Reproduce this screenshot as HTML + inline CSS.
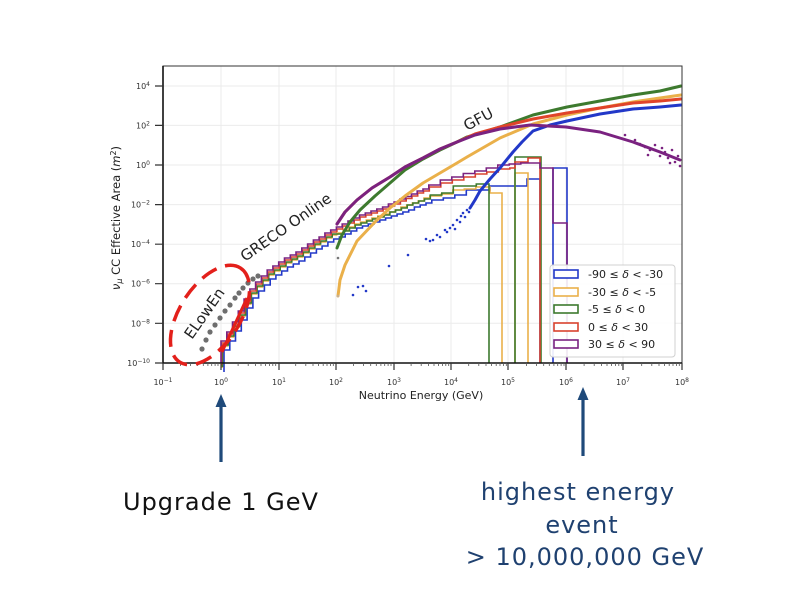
<!DOCTYPE html>
<html><head><meta charset="utf-8"><style>html,body{margin:0;padding:0;background:#fff}svg{display:block}</style></head>
<body>
<svg width="799" height="600" viewBox="0 0 799 600" xmlns="http://www.w3.org/2000/svg" xmlns:xlink="http://www.w3.org/1999/xlink" font-family="'DejaVu Sans','Liberation Sans',sans-serif">
<rect x="0" y="0" width="799" height="600" fill="#fff"/>
<defs>
<g id="mt" stroke="#555" stroke-width="0.8">
<path d="M17.4,363v3M27.5,363v3M34.7,363v3M40.3,363v3M44.9,363v3M48.7,363v3M52.1,363v3M55,363v3"/>
</g>
</defs>
<!-- grid -->
<g stroke="#ebebeb" stroke-width="1">
<path d="M221,66V363M279,66V363M336,66V363M394,66V363M451,66V363M508,66V363M566,66V363M623,66V363"/>
<path d="M163,86H682M163,125.4H682M163,165H682M163,204.6H682M163,244.2H682M163,283.7H682M163,323.3H682"/>
</g>
<!-- histograms: blue, orange, green, red, purple -->
<g fill="none" stroke-width="1.6" stroke-linejoin="miter">
<path id="lowp" d="M221,363V341H226.8V332H232.5V322H238.3V311H244.1V299H249.9V289H255.6V282H261.4V276H267.2V270H272.9V266H278.7V262H284.5V258H290.3V255H296V252H301.8V248H307.6V244H313.4V240H319.1V237H324.9V233H330.7V230H336.4" stroke="#2238c8" transform="translate(3,9)"/>
<path d="M339.4,239V237H345.2V234H351V231H356.7V228H362.5V226H368.3V224H374V222H379.8V220H385.6V218H391.4V216H397.1V214H402.9V212H408.7V210H414.4V207H420.2V205H426V203H431.8V200H443.3V198H454.8V195H466.3V190H490V186H527V179H540V363M553,363V168H567V363" stroke="#2238c8"/>
<path d="M221,363V341H226.8V332H232.5V322H238.3V311H244.1V299H249.9V289H255.6V282H261.4V276H267.2V270H272.9V266H278.7V262H284.5V258H290.3V255H296V252H301.8V248H307.6V244H313.4V240H319.1V237H324.9V233H330.7V230H336.4" stroke="#eab04a" transform="translate(1,5)"/>
<path d="M337.4,235V233H343.2V230H349V227H354.7V224H360.5V222H366.3V220H372V218H377.8V216H383.6V214H389.4V212H395.1V210H400.9V207H406.7V205H412.4V203H418.2V201H424V198H429.8V196H441.3V194H452.8V190H464.3V189H475.8V187H490V193H502V363M515,363V173H528V363" stroke="#eab04a"/>
<path d="M221,363V341H226.8V332H232.5V322H238.3V311H244.1V299H249.9V289H255.6V282H261.4V276H267.2V270H272.9V266H278.7V262H284.5V258H290.3V255H296V252H301.8V248H307.6V244H313.4V240H319.1V237H324.9V233H330.7V230H336.4" stroke="#3d7a2e" transform="translate(1.5,4)"/>
<path d="M337.9,234V234H343.7V231H349.5V228H355.2V225H361V223H366.8V221H372.5V219H378.3V217H384.1V215H389.9V212H395.6V210H401.4V208H407.2V205H412.9V203H418.7V201H424.5V199H430.3V195H441.8V193H453.3V186H476.3V184H489V363M515,363V157H541V363" stroke="#3d7a2e"/>
<path d="M221,363V341H226.8V332H232.5V322H238.3V311H244.1V299H249.9V289H255.6V282H261.4V276H267.2V270H272.9V266H278.7V262H284.5V258H290.3V255H296V252H301.8V248H307.6V244H313.4V240H319.1V237H324.9V233H330.7V230H336.4" stroke="#d9432e" transform="translate(0.5,2)"/>
<path d="M336.9,232V229H342.7V226H348.5V223H354.2V220H360V217H365.8V215H371.5V213H377.3V211H383.1V209H388.9V206H394.6V204H400.4V201H406.2V198.5H411.9V196H417.7V193H423.5V191H429.3V187H440.8V183H452.3V180H463.8V177H475.3V174H486.8V172H498.3V169H509.8V168H515V162H528V158H540V363" stroke="#d9432e"/>
<path d="M221,363V341H226.8V332H232.5V322H238.3V311H244.1V299H249.9V289H255.6V282H261.4V276H267.2V270H272.9V266H278.7V262H284.5V258H290.3V255H296V252H301.8V248H307.6V244H313.4V240H319.1V237H324.9V233H330.7V230H336.4" stroke="#7a2280"/>
<path d="M336.4,230V227H342.2V224H348V221H353.7V218H359.5V215H365.3V213H371V211H376.8V209H382.6V207H388.4V204H394.1V202H399.9V199H405.7V196.5H411.4V194H417.2V191H423V189H428.8V185H440.3V180H451.8V177H463.3V173.5H474.8V171H486.3V168H497.8V165H509.3V164H520.8V163H540V168H553V223H567V363" stroke="#7a2280"/>
</g>
<!-- GFU curves -->
<g fill="none" stroke-width="3" stroke-linejoin="round" stroke-linecap="round">
<polyline stroke="#2238c8" points="470,208 475,200 480,191 490,179 500,168 513,152 522,142 533,131 550,125 567,121 600,114 633,109 660,107 681,105"/>
<polyline stroke="#eab04a" points="338,296 340,280 345,265 357,241 375,222 390,208 405,196 423,183 440,173 457,163 467,157 500,138 533,124 567,115 600,108 633,102 660,98 681,95"/>
<polyline stroke="#3d7a2e" points="337,248 342,235 350,222 360,210 375,196 390,183 405,170 423,159 440,150 457,142 467,137 500,127 533,115 567,107 600,101 633,95 660,91 681,86"/>
<polyline stroke="#e0442a" points="337,224 345,212 357,200 372,188 390,177 405,167 423,158 440,149 457,142 475,134 500,127 533,119 567,113 600,108 633,103 660,101 681,99"/>
<polyline stroke="#7a2280" points="337,224 345,212 357,200 372,188 390,177 405,167 423,158 440,149 457,142 475,135 500,129 530,125 566,127 600,132 633,142 660,152 680,160"/>
</g>
<g fill="#2238c8">
<circle cx="353" cy="295" r="1.3"/><circle cx="358" cy="287" r="1.3"/><circle cx="363" cy="286" r="1.3"/><circle cx="366" cy="291" r="1.3"/><circle cx="389" cy="266" r="1.3"/><circle cx="408" cy="255" r="1.3"/><circle cx="426" cy="239" r="1.3"/><circle cx="430" cy="241" r="1.3"/><circle cx="433" cy="240" r="1.3"/><circle cx="437" cy="235" r="1.3"/><circle cx="440" cy="237" r="1.3"/><circle cx="445" cy="230" r="1.3"/><circle cx="447" cy="232" r="1.3"/><circle cx="450" cy="228" r="1.3"/><circle cx="453" cy="225" r="1.3"/><circle cx="455" cy="229" r="1.3"/><circle cx="457" cy="220" r="1.3"/><circle cx="460" cy="222" r="1.3"/><circle cx="461" cy="216" r="1.3"/><circle cx="463" cy="213" r="1.3"/><circle cx="465" cy="217" r="1.3"/><circle cx="467" cy="210" r="1.3"/><circle cx="469" cy="212" r="1.3"/>
</g>
<g fill="#7a2280">
<circle cx="625" cy="135" r="1.3"/><circle cx="635" cy="140" r="1.3"/><circle cx="640" cy="144" r="1.3"/><circle cx="645" cy="147" r="1.3"/><circle cx="648" cy="155" r="1.3"/><circle cx="650" cy="150" r="1.3"/><circle cx="655" cy="145" r="1.3"/><circle cx="660" cy="156" r="1.3"/><circle cx="662" cy="148" r="1.3"/><circle cx="665" cy="152" r="1.3"/><circle cx="668" cy="158" r="1.3"/><circle cx="670" cy="163" r="1.3"/><circle cx="672" cy="150" r="1.3"/><circle cx="675" cy="162" r="1.3"/><circle cx="678" cy="156" r="1.3"/><circle cx="680" cy="166" r="1.3"/>
</g>
<circle cx="338" cy="296" r="1.3" fill="#c8b090"/><circle cx="338" cy="258" r="1.3" fill="#777"/>
<!-- frame -->
<rect x="163" y="66" width="519" height="297" fill="none" stroke="#333" stroke-width="1"/>
<path d="M163,66V363H682" fill="none" stroke="#111" stroke-width="1.6"/>
<!-- ticks -->
<g stroke="#333" stroke-width="1.2">
<path d="M163,363v7M221,363v7M279,363v7M336,363v7M394,363v7M451,363v7M508,363v7M566,363v7M623,363v7M682,363v7"/>
<path d="M155,86h8M155,125.4h8M155,165h8M155,204.6h8M155,244.2h8M155,283.7h8M155,323.3h8M155,363h8"/>
</g>
<use xlink:href="#mt" x="163"/><use xlink:href="#mt" x="220.7"/><use xlink:href="#mt" x="278.3"/><use xlink:href="#mt" x="336"/><use xlink:href="#mt" x="393.7"/><use xlink:href="#mt" x="451.3"/><use xlink:href="#mt" x="509"/><use xlink:href="#mt" x="566.7"/><use xlink:href="#mt" x="624.3"/>
<!-- tick labels -->
<g font-size="8" fill="#333" text-anchor="middle">
<text x="163" y="385">10<tspan dy="-3" font-size="6">−1</tspan></text>
<text x="221" y="385">10<tspan dy="-3" font-size="6">0</tspan></text>
<text x="279" y="385">10<tspan dy="-3" font-size="6">1</tspan></text>
<text x="336" y="385">10<tspan dy="-3" font-size="6">2</tspan></text>
<text x="394" y="385">10<tspan dy="-3" font-size="6">3</tspan></text>
<text x="451" y="385">10<tspan dy="-3" font-size="6">4</tspan></text>
<text x="508" y="385">10<tspan dy="-3" font-size="6">5</tspan></text>
<text x="566" y="385">10<tspan dy="-3" font-size="6">6</tspan></text>
<text x="623" y="385">10<tspan dy="-3" font-size="6">7</tspan></text>
<text x="682" y="385">10<tspan dy="-3" font-size="6">8</tspan></text>
</g>
<g font-size="8" fill="#333" text-anchor="end">
<text x="150" y="89">10<tspan dy="-3" font-size="6">4</tspan></text>
<text x="150" y="128.4">10<tspan dy="-3" font-size="6">2</tspan></text>
<text x="150" y="168">10<tspan dy="-3" font-size="6">0</tspan></text>
<text x="150" y="207.6">10<tspan dy="-3" font-size="6">−2</tspan></text>
<text x="150" y="247.2">10<tspan dy="-3" font-size="6">−4</tspan></text>
<text x="150" y="286.7">10<tspan dy="-3" font-size="6">−6</tspan></text>
<text x="150" y="326.3">10<tspan dy="-3" font-size="6">−8</tspan></text>
<text x="150" y="366">10<tspan dy="-3" font-size="6">−10</tspan></text>
</g>
<!-- axis labels -->
<text x="421" y="399" font-size="11" fill="#222" text-anchor="middle">Neutrino Energy (GeV)</text>
<text transform="translate(120,218) rotate(-90)" font-size="11.5" fill="#222" text-anchor="middle"><tspan font-style="italic">ν</tspan><tspan dy="2" font-size="8" font-style="italic">μ</tspan><tspan dy="-2"> CC Effective Area (</tspan><tspan font-style="italic">m</tspan><tspan dy="-4" font-size="8">2</tspan><tspan dy="4">)</tspan></text>
<!-- legend -->
<rect x="550" y="265" width="125" height="92" rx="3" fill="#fff" fill-opacity="0.9" stroke="#d0d0d0" stroke-width="1"/>
<g fill="#fff" stroke-width="1.6">
<rect x="554" y="270" width="24" height="8" stroke="#2238c8"/>
<rect x="554" y="288" width="24" height="8" stroke="#eab04a"/>
<rect x="554" y="305" width="24" height="8" stroke="#3d7a2e"/>
<rect x="554" y="323" width="24" height="8" stroke="#d9432e"/>
<rect x="554" y="340" width="24" height="8" stroke="#7a2280"/>
</g>
<g font-size="11" fill="#222" xml:space="preserve">
<text x="588" y="278">-90 ≤ <tspan font-style="italic">δ</tspan> &lt; -30</text>
<text x="588" y="296">-30 ≤ <tspan font-style="italic">δ</tspan> &lt; -5</text>
<text x="588" y="313">-5  ≤ <tspan font-style="italic">δ</tspan> &lt; 0</text>
<text x="588" y="331">0  ≤ <tspan font-style="italic">δ</tspan> &lt; 30</text>
<text x="588" y="348">30  ≤ <tspan font-style="italic">δ</tspan> &lt; 90</text>
</g>
<!-- annotations -->
<text x="467" y="131" font-size="15" fill="#222" transform="rotate(-28 467 131)">GFU</text>
<text x="245" y="262" font-size="15" fill="#222" transform="rotate(-35 245 262)">GRECO Online</text>
<text x="192" y="340" font-size="15" fill="#222" transform="rotate(-55 192 340)">ELowEn</text>
<!-- ELowEn dots -->
<g fill="#6e6e6e">
<circle cx="202" cy="349" r="2.6"/><circle cx="206" cy="340" r="2.6"/><circle cx="210" cy="332" r="2.6"/><circle cx="215" cy="325" r="2.6"/><circle cx="220" cy="318" r="2.6"/><circle cx="225" cy="311" r="2.6"/><circle cx="230" cy="305" r="2.6"/><circle cx="235" cy="298" r="2.6"/><circle cx="239" cy="293" r="2.6"/><circle cx="243" cy="288" r="2.6"/><circle cx="248" cy="283" r="2.6"/><circle cx="253" cy="279" r="2.6"/><circle cx="258" cy="276" r="2.6"/>
</g>
<line x1="222" y1="352" x2="247" y2="298" stroke="#e3201b" stroke-width="3"/>
<ellipse cx="210" cy="315" rx="56" ry="30" transform="rotate(-57 210 315)" fill="none" stroke="#e3201b" stroke-width="3.5" stroke-dasharray="17 9"/>
<!-- arrows -->
<g stroke="#1f4a7a" stroke-width="3.2" fill="#1f4a7a">
<line x1="221" y1="462" x2="221" y2="403"/>
<line x1="583" y1="456" x2="583" y2="397"/>
</g>
<polygon points="221,394 215.5,407 226.5,407" fill="#1f4a7a"/>
<polygon points="583,387 577.5,400 588.5,400" fill="#1f4a7a"/>
<!-- bottom texts -->
<text x="123" y="510" font-size="24" letter-spacing="1" fill="#111">Upgrade 1 GeV</text>
<g font-size="24" letter-spacing="1" fill="#1f4170" text-anchor="middle">
<text x="578" y="500">highest energy</text>
<text x="582" y="533">event</text>
<text x="585" y="565">&gt; 10,000,000 GeV</text>
</g>
</svg>
</body></html>
